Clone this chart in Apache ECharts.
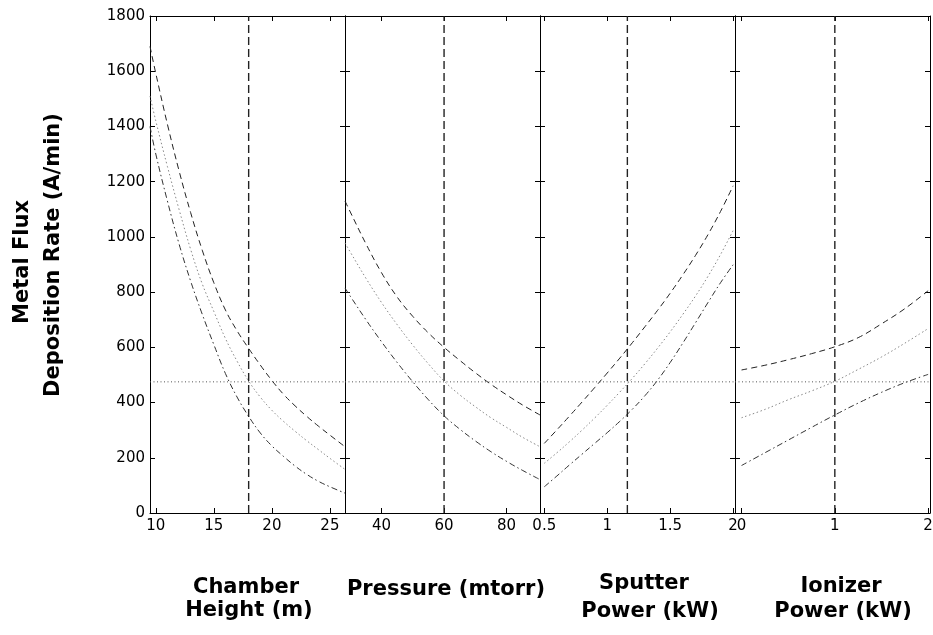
<!DOCTYPE html>
<html>
<head>
<meta charset="utf-8">
<script src="https://cdn.jsdelivr.net/npm/echarts@6/dist/echarts.min.js"></script>
<style>
html,body{margin:0;padding:0;background:#fff;}
#chart{width:933px;height:635px;}
</style>
</head>
<body>
<div id="chart"></div>
<script>
// ---------- data ----------
const yTicks = [0, 200, 400, 600, 800, 1000, 1200, 1400, 1600, 1800];
const targetRate = 475;

// Chamber Height (m)
const heightX      = [9.5, 10, 11, 12, 13, 14, 15, 16, 17, 18, 19, 20, 21, 22, 23, 24, 25, 26.3];
const heightUpper  = [1690, 1592, 1408, 1240, 1088, 952, 834, 735, 660, 596, 536, 480, 430, 388, 350, 315, 282, 240];
const heightMiddle = [1510, 1420, 1255, 1100, 955, 830, 730, 632, 550, 478, 420, 372, 332, 296, 262, 230, 198, 158];
const heightLower  = [1400, 1300, 1130, 975, 840, 720, 610, 505, 420, 350, 290, 243, 205, 170, 140, 115, 95, 72];
const heightTicks  = [10, 15, 20, 25];
const heightSetting = 18;

// Pressure (mtorr)
const pressureX      = [28.3, 30, 35, 40, 45, 50, 55, 60, 65, 70, 75, 80, 85, 90.7];
const pressureUpper  = [1130, 1090, 975, 870, 782, 712, 652, 600, 553, 508, 466, 428, 392, 355];
const pressureMiddle = [978, 945, 850, 762, 682, 608, 540, 478, 428, 385, 345, 310, 275, 240];
const pressureLower  = [815, 785, 700, 620, 545, 475, 410, 352, 304, 261, 222, 187, 155, 121];
const pressureTicks  = [40, 60, 80];
const pressureSetting = 60;

// Sputter Power (kW)
const sputterX      = [0.5, 0.6, 0.7, 0.8, 0.9, 1.0, 1.1, 1.2, 1.3, 1.4, 1.5, 1.6, 1.7, 1.8, 1.9, 2.0];
const sputterUpper  = [252, 301, 351, 402, 454, 507, 561, 617, 675, 734, 796, 862, 932, 1008, 1092, 1185];
const sputterMiddle = [180, 218, 258, 300, 344, 390, 438, 488, 541, 597, 656, 719, 785, 857, 936, 1023];
const sputterLower  = [95, 134, 174, 213, 252, 291, 332, 376, 425, 481, 545, 615, 688, 762, 834, 899];
const sputterTicks  = [0.5, 1, 1.5, 2];
const sputterSetting = 1.16;

// Ionizer Power (kW)
const ionizerX      = [0, 0.25, 0.5, 0.75, 1.0, 1.25, 1.5, 1.75, 2.0];
const ionizerUpper  = [518, 535, 555, 577, 602, 635, 685, 740, 805];
const ionizerMiddle = [345, 375, 410, 442, 477, 520, 565, 615, 668];
const ionizerLower  = [172, 218, 264, 310, 355, 398, 437, 472, 502];
const ionizerTicks  = [0, 1, 2];
const ionizerSetting = 1;

const axisTitles = [["Chamber", "Height (m)"], ["Pressure (mtorr)"], ["Sputter", "Power (kW)"], ["Ionizer", "Power (kW)"]];
const yTitleLines = ["Metal Flux", "Deposition Rate (A/min)"];

// ---------- build ----------
const panels = [
  {x: heightX, up: heightUpper, mid: heightMiddle, low: heightLower, min: 9.5, max: 26.3, ticks: heightTicks, setting: heightSetting},
  {x: pressureX, up: pressureUpper, mid: pressureMiddle, low: pressureLower, min: 28.3, max: 90.7, ticks: pressureTicks, setting: pressureSetting},
  {x: sputterX, up: sputterUpper, mid: sputterMiddle, low: sputterLower, min: 0.466, max: 2.015, ticks: sputterTicks, setting: sputterSetting},
  {x: ionizerX, up: ionizerUpper, mid: ionizerMiddle, low: ionizerLower, min: -0.07, max: 2.02, ticks: ionizerTicks, setting: ionizerSetting}
];

const FONT = '"DejaVu Sans", sans-serif';
const LEFT = 150, TOP = 16, W = 195, H = 497;
const grid = [], xAxis = [], yAxis = [], series = [];
const zip = (xs, ys) => xs.map((v, i) => [v, ys[i]]);

panels.forEach((p, i) => {
  grid.push({left: LEFT + i * W, top: TOP, width: W, height: H, containLabel: false, outerBoundsMode: 'none'});
  const tickCommon = {show: true, inside: true, length: 5, lineStyle: {color: '#000', width: 1}, customValues: p.ticks};
  xAxis.push({
    type: 'value', gridIndex: i, position: 'bottom', min: p.min, max: p.max,
    axisLine: {show: true, onZero: false, lineStyle: {color: '#000', width: 1}},
    axisTick: tickCommon,
    axisLabel: {show: true, customValues: p.ticks, color: '#000', fontFamily: FONT, fontSize: 15, margin: 6, hideOverlap: false,
                formatter: v => String(v)},
    splitLine: {show: false}
  });
  xAxis.push({
    type: 'value', gridIndex: i, position: 'top', min: p.min, max: p.max,
    axisLine: {show: true, onZero: false, lineStyle: {color: '#000', width: 1}},
    axisTick: tickCommon,
    axisLabel: {show: false},
    splitLine: {show: false}
  });
  const yTick = {show: true, inside: true, length: 5, lineStyle: {color: '#000', width: 1}, customValues: yTicks};
  yAxis.push({
    type: 'value', gridIndex: i, position: 'left', min: 0, max: 1800, interval: 200,
    axisLine: {show: true, onZero: false, lineStyle: {color: '#000', width: 1}},
    axisTick: yTick,
    axisLabel: {show: i === 0, customValues: yTicks, color: '#000', fontFamily: FONT, fontSize: 15, margin: 5,
                showMinLabel: true, showMaxLabel: true, formatter: v => String(v)},
    splitLine: {show: false}
  });
  yAxis.push({
    type: 'value', gridIndex: i, position: 'right', min: 0, max: 1800, interval: 200,
    axisLine: {show: true, onZero: false, lineStyle: {color: '#000', width: 1}},
    axisTick: yTick,
    axisLabel: {show: false},
    splitLine: {show: false}
  });
  const base = {type: 'line', xAxisIndex: 2 * i, yAxisIndex: 2 * i, showSymbol: false, symbol: 'none', silent: true, animation: false, smooth: 0.4};
  series.push(Object.assign({}, base, {data: zip(p.x, p.up), lineStyle: {color: '#222', width: 1, type: [6, 4]}}));
  series.push(Object.assign({}, base, {data: zip(p.x, p.mid), lineStyle: {color: '#888', width: 1, type: [1.5, 2.5]}}));
  series.push(Object.assign({}, base, {data: zip(p.x, p.low), lineStyle: {color: '#333', width: 1, type: [6, 3, 1.5, 3]}}));
  series.push(Object.assign({}, base, {smooth: false, data: [[p.min, targetRate], [p.max, targetRate]], lineStyle: {color: '#555', width: 1, type: [1, 2.5]}}));
  series.push(Object.assign({}, base, {smooth: false, data: [[p.setting, 0], [p.setting, 1800]], lineStyle: {color: '#222', width: 1.4, type: [8, 4]}}));
});

const graphic = [];
const titleFont = 'bold 21px ' + FONT;
const txt = (x, y, text, rot) => ({
  type: 'text', x: x, y: y, rotation: rot || 0, silent: true,
  style: {text: text, x: 0, y: 0, font: titleFont, fill: '#000', align: 'center', verticalAlign: 'middle', textAlign: 'center', textVerticalAlign: 'middle'}
});
graphic.push(txt(23, 262, yTitleLines[0], Math.PI / 2));
graphic.push(txt(54, 255, yTitleLines[1], Math.PI / 2));
graphic.push(txt(246, 588, axisTitles[0][0]));
graphic.push(txt(249, 611, axisTitles[0][1]));
graphic.push(txt(446, 590, axisTitles[1][0]));
graphic.push(txt(644, 584, axisTitles[2][0]));
graphic.push(txt(650, 612, axisTitles[2][1]));
graphic.push(txt(841, 587, axisTitles[3][0]));
graphic.push(txt(843, 612, axisTitles[3][1]));

const chart = echarts.init(document.getElementById('chart'), null, {renderer: 'canvas'});
chart.setOption({
  backgroundColor: '#fff',
  animation: false,
  grid: grid, xAxis: xAxis, yAxis: yAxis, series: series, graphic: graphic
});
</script>
</body>
</html>
